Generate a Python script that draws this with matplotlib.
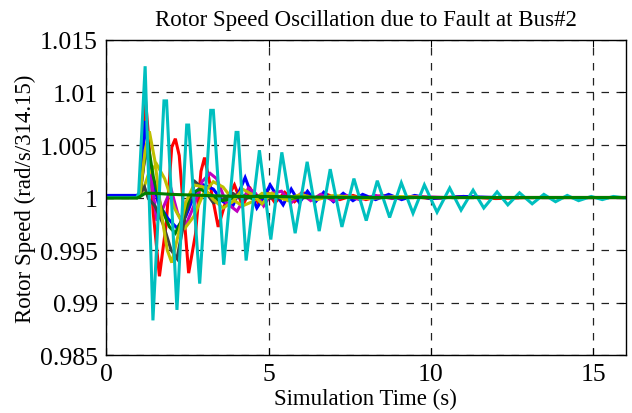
import numpy as np
import matplotlib
matplotlib.use('Agg')
import matplotlib.pyplot as plt

# --- data (time in s, speed in pu) ---
cyan_t = [0, 0.95, 1.0, 1.2, 1.44, 1.78, 1.86, 2.18, 2.48, 2.54, 2.88, 3.22, 3.30, 3.62,
          4.0, 4.06, 4.31, 4.72, 5.07, 5.41, 5.82, 6.19, 6.56, 6.90, 7.26, 7.63, 8.01,
          8.35, 8.73, 9.09, 9.45, 9.80, 10.19, 10.58, 10.93, 11.30, 11.63, 12.04, 12.37,
          12.73, 13.12, 13.48, 13.84, 14.20, 14.55, 14.94, 15.28, 15.62, 16.0]
cyan_v = [1.0, 1.0, 1.0004, 1.0125, 0.9883, 1.0092, 1.0092, 0.9893, 1.0069, 1.0069, 0.9918,
          1.0083, 1.0083, 0.9936, 1.0062, 1.0062, 0.9940, 1.0045, 0.9960, 1.0043, 0.9966,
          1.0034, 0.9968, 1.0027, 0.9972, 1.0018, 0.9978, 1.0016, 0.9981, 1.0014, 0.9985,
          1.0012, 0.9986, 1.0009, 0.9988, 1.0007, 0.9990, 1.00054, 0.9993, 1.00045, 0.9994,
          1.0003, 0.9996, 1.0002, 0.9997, 1.0001, 0.9998, 1.0001, 0.99995]

red_t = [0, 0.95, 1.05, 1.2, 1.3, 1.45, 1.64, 1.85, 2.02, 2.13, 2.25, 2.54, 2.75, 2.92, 3.03,
         3.15, 3.45, 3.7, 3.95, 4.2, 4.45, 4.7, 4.95, 5.2, 5.5, 5.8, 6.1, 6.4, 6.8, 7.2, 7.6,
         8.0, 8.5, 9.0, 9.5, 10.0, 11.0, 12.0, 13.0, 14.0, 15.0, 16.0]
red_v = [1.0, 1.0, 1.0006, 1.0097, 1.0060, 0.9985, 0.9925, 0.9975, 1.0048, 1.0056, 1.0040,
         0.9928, 0.9965, 1.0025, 1.0038, 1.0020, 0.9972, 0.9998, 1.0012, 0.9992, 1.0008,
         0.9994, 1.0006, 0.9995, 1.0005, 0.9996, 1.0004, 0.9997, 1.0003, 0.9998, 1.0002,
         0.9998, 1.0002, 0.9999, 1.0001, 0.9999, 1.0001, 0.9999, 1.0, 1.0, 1.0, 1.0]

blue_t = [0, 0.95, 1.05, 1.2, 1.35, 1.6, 1.9, 2.18, 2.45, 2.75, 3.0, 3.3, 3.6, 3.9, 4.1,
          4.28, 4.45, 4.64, 4.85, 5.05, 5.25, 5.45, 5.7, 5.95, 6.2, 6.45, 6.7, 7.0, 7.3,
          7.6, 7.9, 8.3, 8.7, 9.1, 9.5, 10.0, 11.0, 12.0, 13.0, 14.0, 15.0, 16.0]
blue_v = [1.0002, 1.0002, 1.0005, 1.0073, 1.0030, 0.9995, 0.9980, 0.9971, 0.9982, 1.0005,
          1.0012, 1.0008, 0.9996, 0.9992, 1.0006, 1.0019, 1.0005, 0.9990, 1.0000, 1.0012,
          1.0002, 0.9993, 1.0008, 0.9995, 1.0006, 0.9996, 1.0005, 0.9996, 1.0004, 0.9997,
          1.0003, 0.9998, 1.0003, 0.9998, 1.0002, 0.9999, 1.0001, 1.0, 1.0, 1.0, 1.0, 1.0]

magenta_t = [0, 0.95, 1.05, 1.23, 1.4, 1.56, 1.75, 2.0, 2.2, 2.43, 2.7, 2.95, 3.2, 3.4,
             3.7, 4.03, 4.2, 4.38, 4.6, 4.85, 5.1, 5.4, 5.7, 6.0, 6.3, 6.6, 7.0, 7.4, 7.8,
             8.3, 8.8, 9.5, 10.5, 12.0, 14.0, 16.0]
magenta_v = [1.0, 1.0, 1.0005, 1.0047, 1.0015, 0.9978, 0.9990, 1.0008, 0.9985, 0.9972,
             0.9992, 1.0015, 1.0023, 1.0018, 0.9995, 0.9987, 0.9996, 1.0009, 1.0004, 0.9992,
             1.0004, 1.0006, 0.9995, 1.0004, 0.9997, 1.0003, 0.9997, 1.0002, 0.9998, 1.0002,
             0.9999, 1.0001, 1.0, 1.0, 1.0, 1.0]

yellow_t = [0, 0.95, 1.05, 1.2, 1.33, 1.5, 1.7, 1.88, 2.02, 2.2, 2.45, 2.7, 3.0, 3.3, 3.6,
            3.9, 4.2, 4.5, 4.8, 5.1, 5.5, 6.0, 6.5, 7.0, 8.0, 9.0, 10.0, 12.0, 16.0]
yellow_v = [1.0, 1.0, 1.0005, 1.0045, 1.0063, 1.0035, 0.9985, 0.9950, 0.9938, 0.9962,
            0.9995, 1.0012, 1.0010, 0.9998, 0.9990, 0.9996, 1.0008, 1.0003, 0.9994, 1.0004,
            0.9998, 1.0003, 0.9998, 1.0002, 0.9999, 1.0001, 1.0, 1.0, 1.0]

olive_t = [0, 0.95, 1.1, 1.3, 1.55, 1.8, 2.1, 2.43, 2.7, 3.0, 3.3, 3.6, 3.9, 4.2, 4.5,
           4.8, 5.2, 5.6, 6.0, 6.5, 7.0, 8.0, 9.0, 10.0, 12.0, 16.0]
olive_v = [1.0, 1.0, 1.0004, 1.0022, 1.0032, 1.0018, 0.9990, 0.9971, 0.9982, 1.0004,
           1.0015, 1.0010, 0.9998, 0.9992, 0.9996, 1.0004, 1.0003, 0.9997, 1.0002, 0.9999,
           1.0001, 1.0, 1.0, 1.0, 1.0, 1.0]

gray_t = [0, 0.95, 1.05, 1.18, 1.3, 1.5, 1.75, 2.0, 2.18, 2.45, 2.74, 3.0, 3.3, 3.6, 3.9,
          4.2, 4.6, 5.0, 5.5, 6.0, 7.0, 8.0, 10.0, 16.0]
gray_v = [1.0, 1.0, 1.0004, 1.0010, 0.9999, 0.9992, 0.9975, 0.9950, 0.9942, 0.9985,
          1.0015, 1.0008, 0.9995, 0.9998, 1.0004, 0.9998, 1.0002, 0.9999, 1.0001, 1.0,
          1.0, 1.0, 1.0, 1.0]

green_t = [0, 0.95, 1.05, 1.15, 1.28, 1.45, 1.7, 1.95, 2.13, 2.35, 2.6, 2.9, 3.2, 3.5,
           3.8, 4.1, 4.5, 5.0, 5.5, 6.0, 7.0, 8.0, 10.0, 16.0]
green_v = [1.0, 1.0, 1.0004, 1.0030, 1.0053, 1.0020, 0.9990, 0.9972, 0.9966, 0.9980,
           1.0004, 1.0008, 1.0003, 0.9997, 0.9998, 1.0003, 0.9999, 1.0001, 0.9999, 1.0,
           1.0, 1.0, 1.0, 1.0]

# reference machine, almost flat
ref_t = [0, 0.95, 1.05, 1.2, 1.5, 2.0, 3.0, 4.0, 5.0, 6.0, 8.0, 10.0, 12.0, 16.0]
ref_v = [0.99995, 0.99995, 1.0001, 1.0004, 1.0004, 1.0003, 1.0002, 1.0001, 1.0001, 1.00005,
         1.0, 1.0, 1.0, 1.0]

series = [
    (red_t, red_v, '#ff0000'),
    (blue_t, blue_v, '#0000ff'),
    (magenta_t, magenta_v, '#bf00bf'),
    (olive_t, olive_v, '#bfbf00'),
    (gray_t, gray_v, '#404040'),
    (green_t, green_v, '#008000'),
    (yellow_t, yellow_v, '#bfbf00'),
    (cyan_t, cyan_v, '#00bfbf'),
    (ref_t, ref_v, '#007f00'),
]

plt.rcParams['font.family'] = 'Liberation Serif'

fig = plt.figure(figsize=(6.32, 4.14), dpi=100)
ax = fig.add_axes([0.168, 0.140, 0.822, 0.761])

for t, v, c in series:
    ax.plot(t, v, color=c, linewidth=2.2, solid_joinstyle='miter')

ax.set_xlim(0, 16)
ax.set_ylim(0.985, 1.015)
ax.set_xticks([0, 5, 10, 15])
ax.set_yticks([0.985, 0.99, 0.995, 1.0, 1.005, 1.01, 1.015])
ax.set_yticklabels(['0.985', '0.99', '0.995', '1', '1.005', '1.01', '1.015'])
ax.tick_params(direction='in', length=5, width=0.8, labelsize=18.5,
               top=True, right=True, pad=6)
ax.grid(True, color='#222222', linestyle=(0, (6, 6)), linewidth=0.9)
for s in ax.spines.values():
    s.set_linewidth(1.0)

ax.set_title('Rotor Speed Oscillation due to Fault at Bus#2', fontsize=16.5, pad=11)
ax.set_xlabel('Simulation Time (s)', fontsize=16.5, labelpad=2)
ax.set_ylabel('Rotor Speed (rad/s/314.15)', fontsize=16.5, labelpad=3)

fig.savefig('out.png', dpi=100)
